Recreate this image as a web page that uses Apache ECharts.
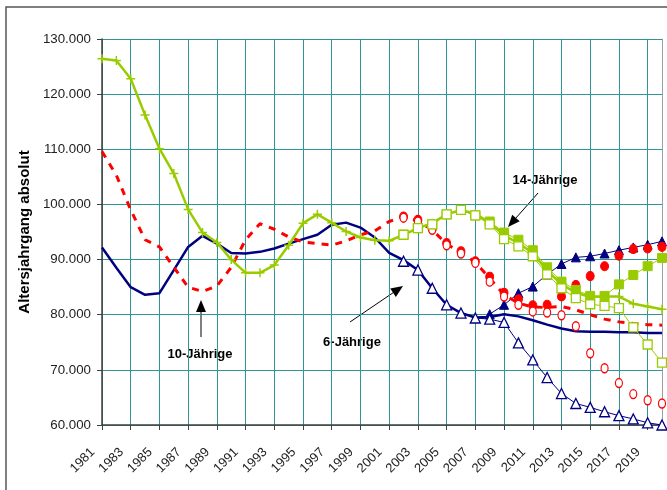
<!DOCTYPE html>
<html>
<head>
<meta charset="utf-8">
<script src="https://cdn.jsdelivr.net/npm/echarts@6/dist/echarts.min.js"></script>
<style>
  html, body { margin: 0; padding: 0; background: #fff; }
  #chart { width: 667px; height: 490px; }
</style>
</head>
<body>
<div id="chart"></div>
<script>
// Jahre (Kategorien)
const years = ['1981', '1982', '1983', '1984', '1985', '1986', '1987', '1988', '1989', '1990',
  '1991', '1992', '1993', '1994', '1995', '1996', '1997', '1998', '1999', '2000',
  '2001', '2002', '2003', '2004', '2005', '2006', '2007', '2008', '2009', '2010',
  '2011', '2012', '2013', '2014', '2015', '2016', '2017', '2018', '2019', '2020']

// Werte in Tausend
// 6-Jährige
const sechsMittel = [92.2, 88.5, 85.0, 83.6, 83.9, 88.1, 92.3, 94.3, 92.9, 91.2,
  91.1, 91.4, 92.0, 92.9, 93.7, 94.5, 96.3, 96.7, 95.8, 94.0,
  91.2, 89.9, 88.1, 84.8, 81.8, 80.3, 79.5, 79.6, 80.1, 79.7,
  79.0, 78.2, 77.5, 77.0, 76.9, 76.9, 76.8, 76.8, 76.7, 76.7]
const sechsNiedrig = [89.7, 88.1, 84.8, 81.8, 80.3, 79.4, 79.2, 78.6, 74.9, 71.8,
  68.6, 65.7, 63.9, 63.2, 62.4, 61.7, 61.1, 60.4, 60.0]          // ab 2002
const sechsHoch = [80.1, 81.8, 83.9, 85.1, 87.3, 89.2, 90.4, 90.6, 91.1, 91.7,
  92.2, 92.7, 93.3]                                               // ab 2008

// 10-Jährige
const zehnMittel = [109.6, 105.3, 99.0, 93.6, 92.3, 88.6, 85.0, 84.2, 85.2, 88.6,
  93.6, 96.5, 95.5, 94.1, 93.2, 92.9, 92.6, 93.4, 94.5, 95.2,
  96.9, 97.8, 97.0, 95.4, 92.8, 91.3, 89.5, 86.6, 83.6, 82.1,
  81.4, 81.3, 81.5, 80.9, 80.0, 79.2, 78.7, 78.4, 78.2, 78.1]
const zehnNiedrig = [97.6, 96.9, 95.4, 92.6, 91.1, 89.4, 86.0, 83.3, 81.8, 80.6,
  80.4, 79.9, 77.9, 73.0, 70.3, 67.6, 65.6, 64.5, 63.9]           // ab 2002
const zehnHoch = [97.8, 97.2, 95.6, 93.0, 91.5, 89.7, 86.9, 84.0, 82.8, 81.7,
  81.8, 83.3, 85.4, 87.0, 88.8, 90.7, 91.9, 92.0, 92.3]           // ab 2002

// 14-Jährige
const vierzehnMittel = [126.4, 126.1, 122.8, 116.2, 110.1, 105.6, 99.1, 94.9, 93.1, 90.0,
  87.6, 87.6, 89.0, 92.6, 96.6, 98.2, 96.7, 95.1, 94.0, 93.5,
  93.4, 94.5, 95.7, 96.6, 98.2, 99.0, 98.3, 96.7, 94.4, 93.0,
  91.2, 88.0, 85.5, 84.0, 83.2, 83.3, 83.3, 82.0, 81.5, 81.0]
const vierzehnNiedrig = [94.5, 95.7, 96.4, 98.2, 99.0, 98.0, 96.4, 93.7, 92.4, 90.6,
  87.3, 84.8, 83.0, 81.9, 81.6, 81.2, 77.7, 74.6, 71.3]           // ab 2002
const vierzehnHoch = [94.5, 95.7, 96.4, 98.2, 99.0, 98.0, 96.9, 94.9, 93.6, 91.7,
  88.6, 86.0, 84.5, 83.4, 83.4, 85.5, 87.2, 88.8, 90.3]           // ab 2002

const yTicks = [60, 70, 80, 90, 100, 110, 120, 130]

const NAVY = '#000080'
const RED = '#ff0000'
const GREEN = '#99cc00'
const FONT = 'Arial, "Liberation Sans", sans-serif'

// Reihe erst ab einem bestimmten Jahr
function abJahr(jahr, werte) {
  const pad = years.indexOf(String(jahr))
  return new Array(pad).fill(null).concat(werte)
}

let chart = echarts.init(document.getElementById('chart'), null, {renderer: 'canvas'})

function arrow(x1, y1, x2, y2) {
  const dx = x2 - x1, dy = y2 - y1
  const len = Math.sqrt(dx * dx + dy * dy)
  const ux = dx / len, uy = dy / len
  const head = 12, half = 5
  const bx = x2 - ux * head, by = y2 - uy * head
  return [{
    type: 'line',
    shape: {x1: x1, y1: y1, x2: bx, y2: by},
    style: {stroke: '#000', lineWidth: 1}
  }, {
    type: 'polygon',
    shape: {points: [[x2, y2], [bx - uy * half, by + ux * half], [bx + uy * half, by - ux * half]]},
    style: {fill: '#000'}
  }]
}

function label(text, x, y) {
  return {
    type: 'text',
    x: x, y: y,
    style: {
      text: text, fill: '#000',
      font: 'bold 13px ' + FONT,
      align: 'center', verticalAlign: 'middle'
    }
  }
}

let option = {
  animation: false,
  grid: {left: 102, top: 39, right: 5, bottom: 65},
  xAxis: {
    type: 'category',
    data: years,
    boundaryGap: false,
    axisLine: {lineStyle: {color: '#404040', width: 1.5}},
    axisTick: {interval: 1, length: 5, lineStyle: {color: '#404040'}},
    axisLabel: {
      interval: 1, rotate: 45, margin: 16,
      padding: [0, 13, 0, 0],
      color: '#222', fontSize: 13, fontFamily: FONT
    },
    splitLine: {show: true, interval: 1, lineStyle: {color: '#2e9494', width: 1}}
  },
  yAxis: [{
    type: 'value',
    min: yTicks[0], max: yTicks[yTicks.length - 1], interval: 10,
    name: 'Altersjahrgang absolut',
    nameLocation: 'middle',
    nameGap: 67,
    nameTextStyle: {fontFamily: FONT, fontWeight: 'bold', fontSize: 15, color: '#000'},
    axisLine: {show: true, lineStyle: {color: '#404040', width: 1.5}},
    axisTick: {show: true, length: 5, lineStyle: {color: '#404040'}},
    axisLabel: {
      margin: 11, color: '#222', fontSize: 13.3, fontFamily: FONT,
      formatter: v => v + '.000'
    },
    splitLine: {show: true, lineStyle: {color: '#2e9494', width: 1}}
  }, {
    type: 'value',
    position: 'right',
    min: yTicks[0], max: yTicks[yTicks.length - 1],
    axisLine: {show: true, lineStyle: {color: '#a0a0a0', width: 1}},
    axisTick: {show: false},
    axisLabel: {show: false},
    splitLine: {show: false}
  }],
  series: [
    // 6-Jährige
    {
      type: 'line', data: sechsMittel, symbol: 'none',
      lineStyle: {color: NAVY, width: 2.5}
    },
    {
      type: 'line', data: abJahr(2008, sechsHoch),
      symbol: 'triangle', symbolSize: 9, showAllSymbol: true,
      itemStyle: {color: NAVY, borderColor: NAVY, borderWidth: 1},
      lineStyle: {color: NAVY, width: 1}
    },
    {
      type: 'line', data: abJahr(2002, sechsNiedrig),
      symbol: 'triangle', symbolSize: 10, showAllSymbol: true,
      itemStyle: {color: '#fff', borderColor: NAVY, borderWidth: 1.3},
      lineStyle: {color: NAVY, width: 1}
    },
    // 10-Jährige
    {
      type: 'line', data: zehnMittel, symbol: 'none',
      lineStyle: {color: RED, width: 3, type: [7, 7]}
    },
    {
      type: 'line', data: abJahr(2002, zehnHoch),
      symbol: 'circle', symbolSize: [8, 9], showAllSymbol: true,
      itemStyle: {color: RED, borderColor: RED, borderWidth: 1},
      lineStyle: {width: 0, opacity: 0}
    },
    {
      type: 'line', data: abJahr(2002, zehnNiedrig),
      symbol: 'circle', symbolSize: [7, 9], showAllSymbol: true,
      itemStyle: {color: '#fff', borderColor: RED, borderWidth: 1.3},
      lineStyle: {width: 0, opacity: 0}
    },
    // 14-Jährige
    {
      type: 'line', data: vierzehnMittel,
      symbol: 'path://M0,5L10,5M5,0L5,10', symbolSize: 9, showAllSymbol: true,
      itemStyle: {color: GREEN, borderColor: GREEN, borderWidth: 1.5},
      lineStyle: {color: GREEN, width: 2.5}
    },
    {
      type: 'line', data: abJahr(2002, vierzehnHoch),
      symbol: 'rect', symbolSize: 9, showAllSymbol: true,
      itemStyle: {color: GREEN, borderColor: GREEN, borderWidth: 1},
      lineStyle: {color: GREEN, width: 1}
    },
    {
      type: 'line', data: abJahr(2002, vierzehnNiedrig),
      symbol: 'rect', symbolSize: 9, showAllSymbol: true,
      itemStyle: {color: '#fff', borderColor: GREEN, borderWidth: 1.3},
      lineStyle: {color: GREEN, width: 1}
    }
  ],
  graphic: [
    {
      type: 'rect',
      shape: {x: 6, y: 7, width: 700, height: 520},
      style: {fill: 'none', stroke: '#555', lineWidth: 1.5},
      silent: true
    },
    label('10-Jährige', 200, 354),
    label('6-Jährige', 352, 342),
    label('14-Jährige', 545, 180),
    ...arrow(201, 337, 201, 300),
    ...arrow(350, 322, 403, 286),
    ...arrow(538, 193, 508, 227)
  ]
}
chart.setOption(option, true)
</script>
</body>
</html>
